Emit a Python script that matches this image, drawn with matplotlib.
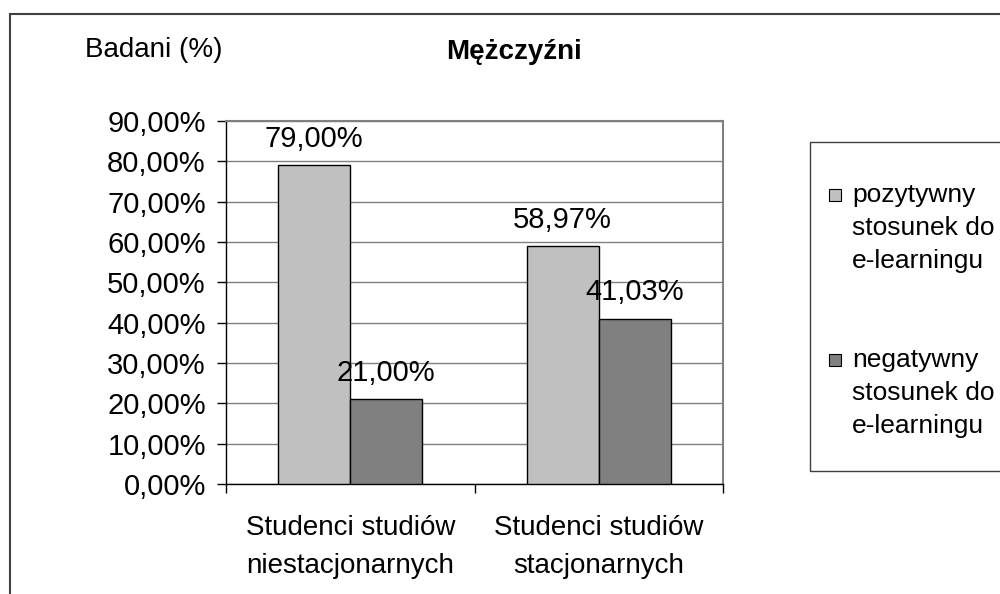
import matplotlib
matplotlib.use("Agg")
import matplotlib.pyplot as plt
from matplotlib.patches import Rectangle
from matplotlib.ticker import FuncFormatter, MultipleLocator
import numpy as np

plt.rcParams["font.family"] = ["Liberation Sans", "DejaVu Sans"]

categories = ["Studenci studiów\nniestacjonarnych", "Studenci studiów\nstacjonarnych"]
series_names = ["pozytywny\nstosunek do\ne-learningu", "negatywny\nstosunek do\ne-learningu"]
positive = [0.79, 0.5897]
negative = [0.21, 0.4103]
title = "Mężczyźni"
ylabel = "Badani (%)"

colors = ["#c0c0c0", "#808080"]
FS = 21

fig = plt.figure(figsize=(10.0, 5.94), dpi=100)
fig.patch.set_facecolor("white")
ax = fig.add_axes([0.226, 0.1852, 0.497, 0.6111])

x = np.arange(len(categories))
w = 0.29
for vals, off, col in ((positive, -w / 2, colors[0]), (negative, w / 2, colors[1])):
    bars = ax.bar(x + off, vals, width=w, color=col, edgecolor="black", lw=1.0, zorder=3)
    for b, v in zip(bars, vals):
        ax.annotate(f"{v * 100:.2f}%".replace(".", ","),
                    (b.get_x() + b.get_width() / 2, v), xytext=(0, 19),
                    textcoords="offset points", ha="center", va="center",
                    fontsize=FS, zorder=4)

ax.set_xlim(-0.5, 1.5)
ax.set_ylim(0, 0.9)
ax.yaxis.set_major_locator(MultipleLocator(0.1))
ax.yaxis.set_major_formatter(FuncFormatter(lambda v, _: f"{v * 100:.2f}%".replace(".", ",")))
ax.grid(axis="y", color="#808080", lw=1.0, zorder=0)
ax.set_xticks(x)
ax.set_xticklabels(categories, fontsize=20, linespacing=1.6)
ax.set_xticks([-0.5, 0.5, 1.5], minor=True)
ax.tick_params(axis="x", which="major", length=0, pad=22)
ax.tick_params(axis="x", which="minor", length=6.5, width=1.0, direction="out")
ax.tick_params(axis="y", length=6.5, width=1.0, pad=8, labelsize=FS)
for side in ("top", "right"):
    ax.spines[side].set_color("#808080")
    ax.spines[side].set_linewidth(1.5)
for side in ("left", "bottom"):
    ax.spines[side].set_color("black")
    ax.spines[side].set_linewidth(1.0)

fig.text(0.085, 1 - 50 / 594, ylabel, fontsize=20, ha="left", va="center")
fig.text(0.514, 1 - 52 / 594, title, fontsize=20, fontweight="bold", ha="center", va="center")

# outer chart frame (right/bottom edges fall outside the picture)
fig.add_artist(Rectangle((0.0095, -0.05), 1.1, 1 - 14 / 594 + 0.05, transform=fig.transFigure,
                         fill=False, edgecolor="#404040", lw=1.5))

# legend box
fig.add_artist(Rectangle((0.810, 1 - 471 / 594), 0.3, (471 - 142) / 594, transform=fig.transFigure,
                         fill=False, edgecolor="#404040", lw=1.0))
for i, (name, col) in enumerate(zip(series_names, colors)):
    y0 = 195 + i * 165
    fig.add_artist(Rectangle((0.8285, 1 - (y0 + 6) / 594), 0.012, 12 / 594,
                             transform=fig.transFigure, facecolor=col, edgecolor="black", lw=0.8))
    for j, line in enumerate(name.split("\n")):
        fig.text(0.852, 1 - (y0 + j * 33) / 594, line, fontsize=19, ha="left", va="center")

fig.savefig("out.png", dpi=100, facecolor="white")
